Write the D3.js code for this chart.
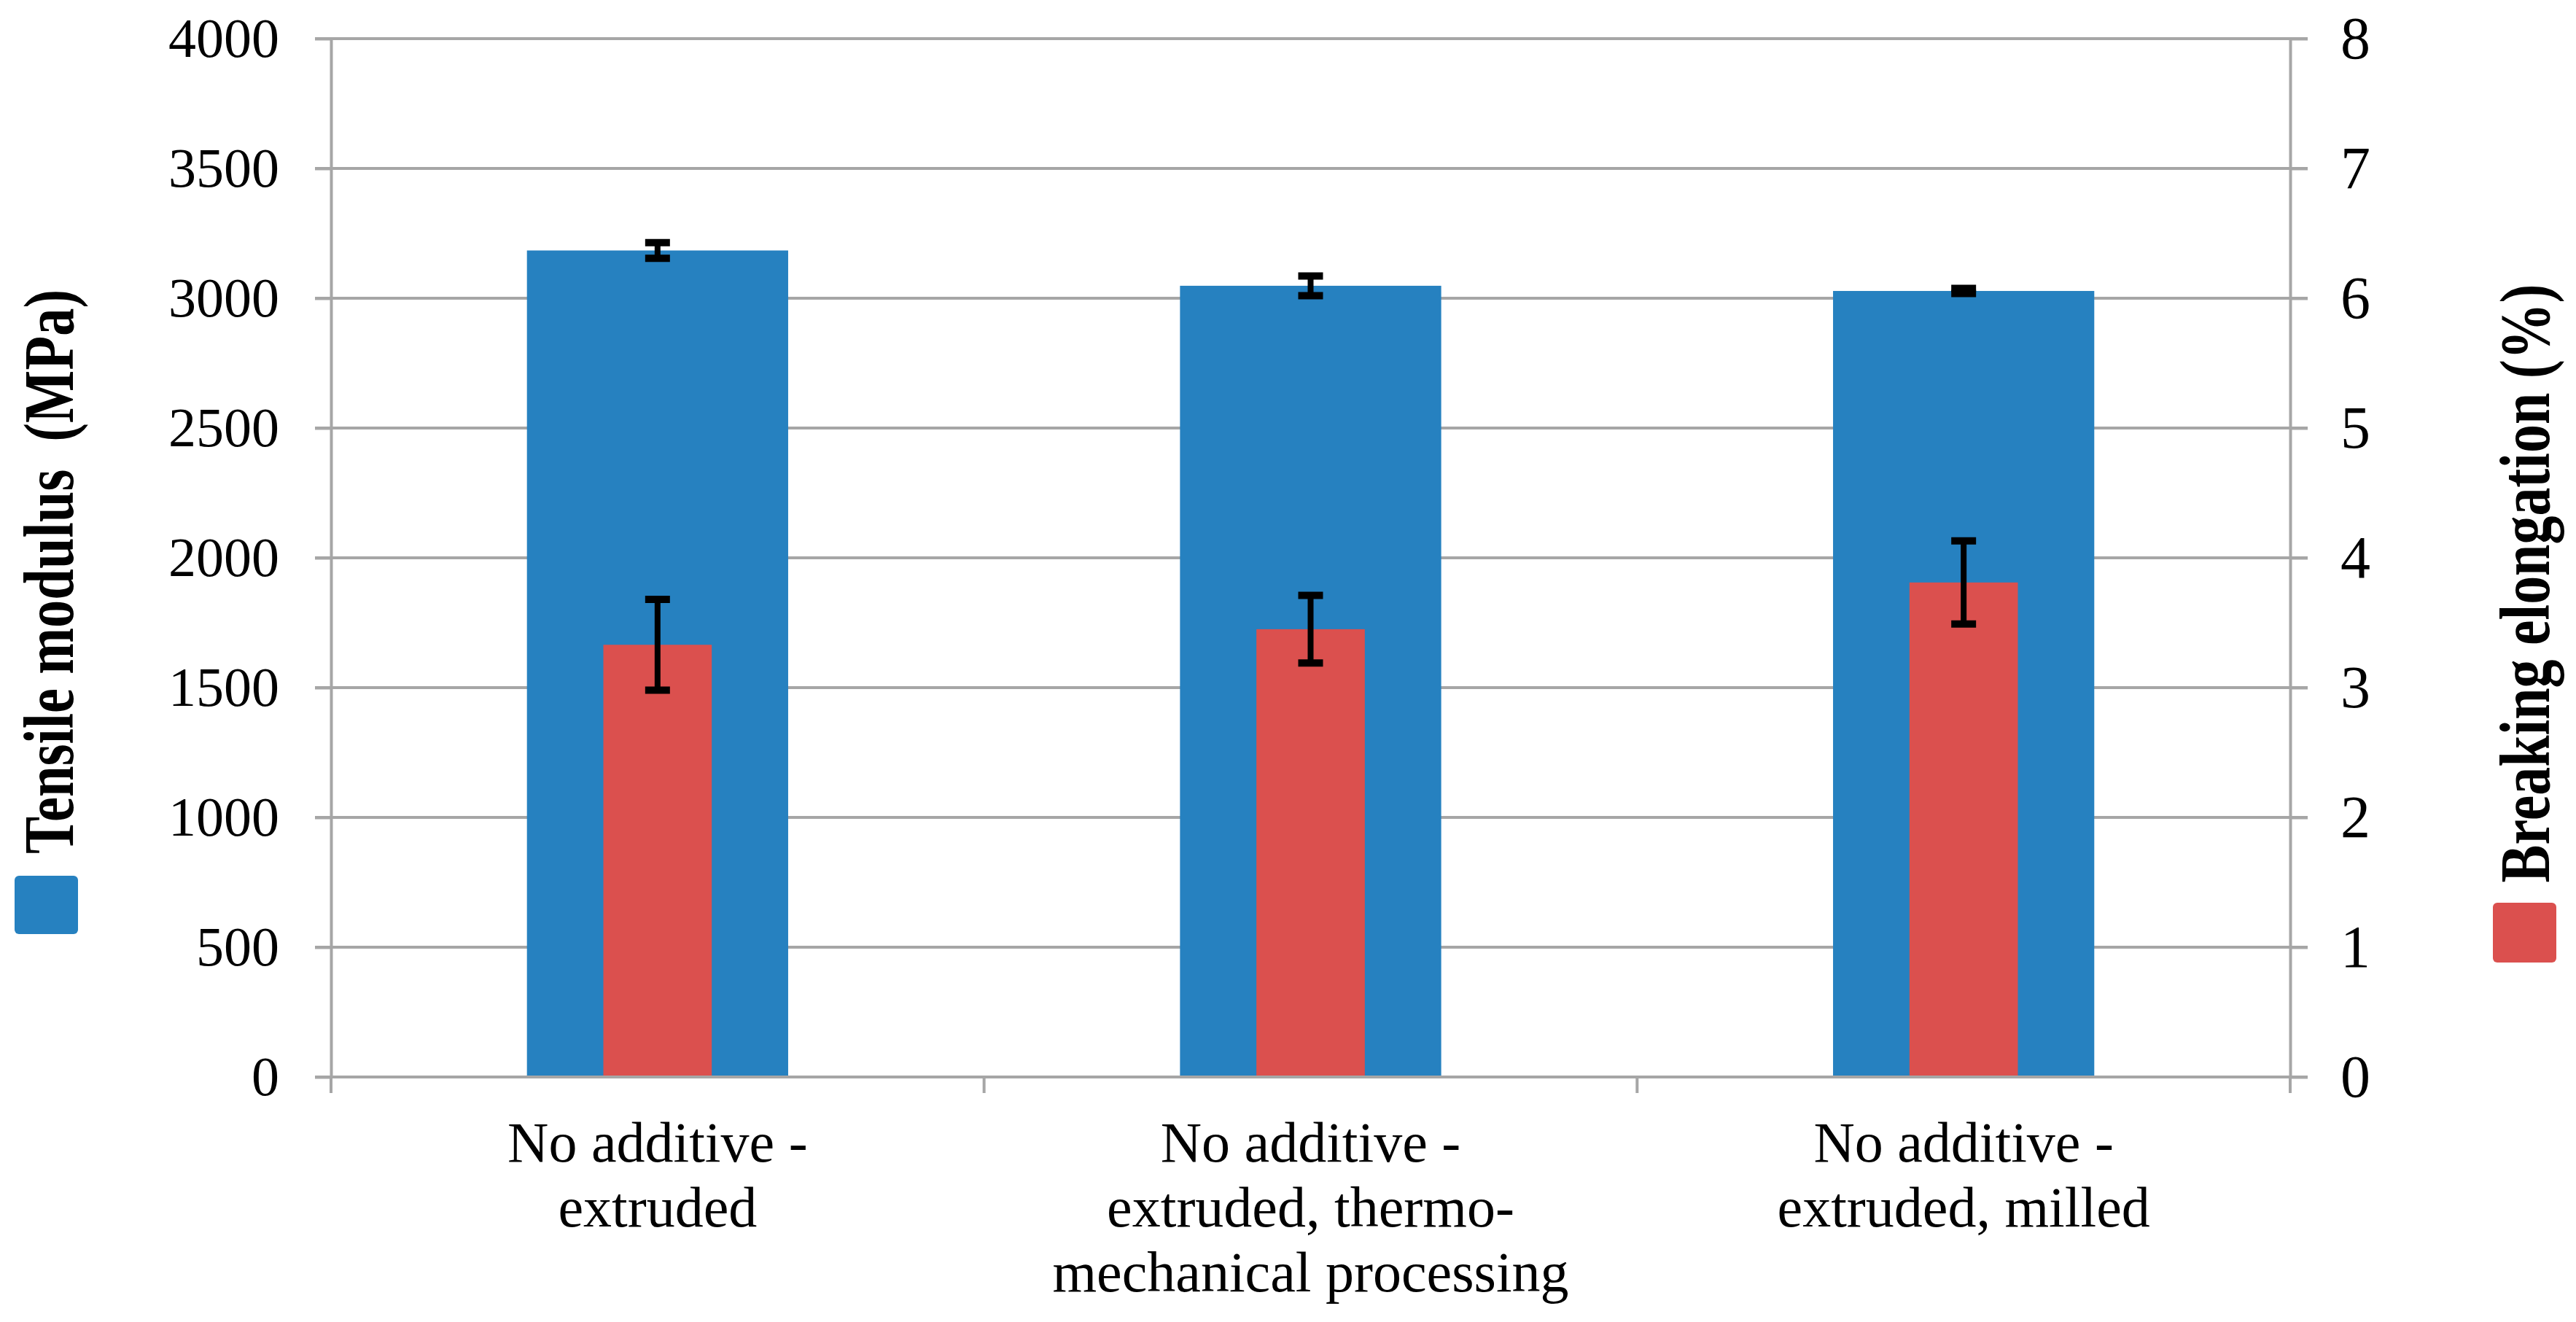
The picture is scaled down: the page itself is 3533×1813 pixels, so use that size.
<!DOCTYPE html>
<html>
<head>
<meta charset="utf-8">
<script src="https://cdn.jsdelivr.net/npm/d3@7"></script>
<style>
  body { margin: 0; background: #fff; }
  text { font-family: "Liberation Serif", "Times New Roman", serif; }
</style>
</head>
<body>
<div id="chart"></div>
<script>
// data
var categories = ["No additive - extruded",
                  "No additive - extruded, thermo-mechanical processing",
                  "No additive - extruded, milled"];
var labelLines = [["No additive -", "extruded"],
                  ["No additive -", "extruded, thermo-", "mechanical processing"],
                  ["No additive -", "extruded, milled"]];
var modulus = [3184, 3048, 3028];
var modulusErr = [30, 38, 10];
var elongation = [3.33, 3.45, 3.81];
var elongationErr = [0.35, 0.26, 0.32];
var leftTicks = [0, 500, 1000, 1500, 2000, 2500, 3000, 3500, 4000];
var rightTicks = [0, 1, 2, 3, 4, 5, 6, 7, 8];

var width = 3533, height = 1813;
// note: "top" is a reserved window property, so use other names
var plotLeft = 454, plotRight = 3141, plotTop = 53, plotBottom = 1477;
var gridColor = "#a6a6a6";
var blue = "#2681c0", red = "#db504e";

var svg = d3.select("#chart").append("svg")
    .attr("width", width)
    .attr("height", height)
    .attr("viewBox", [0, 0, width, height]);

var x = d3.scaleBand().domain(categories).range([plotLeft, plotRight]).padding(0);
var yL = d3.scaleLinear().domain([0, 4000]).range([plotBottom, plotTop]);
var yR = d3.scaleLinear().domain([0, 8]).range([plotBottom, plotTop]);

// gridlines
svg.append("g")
  .selectAll("line")
  .data(leftTicks)
  .join("line")
    .attr("x1", plotLeft - 22)
    .attr("x2", plotRight + 24)
    .attr("y1", d => yL(d))
    .attr("y2", d => yL(d))
    .attr("stroke", gridColor)
    .attr("stroke-width", 4);

// left axis
var gl = svg.append("g")
    .attr("transform", `translate(${plotLeft},0)`)
    .call(d3.axisLeft(yL).tickValues(leftTicks).tickFormat(d3.format("d"))
      .tickSize(22).tickSizeOuter(0).tickPadding(49));
gl.selectAll("text").attr("font-size", 76).attr("fill", "#000")
  .style("font-family", "'Liberation Serif', serif");

// right axis
var gr = svg.append("g")
    .attr("transform", `translate(${plotRight},0)`)
    .call(d3.axisRight(yR).tickValues(rightTicks).tickFormat(d3.format("d"))
      .tickSize(24).tickSizeOuter(0).tickPadding(45));
gr.selectAll("text").attr("font-size", 82).attr("fill", "#000")
  .style("font-family", "'Liberation Serif', serif");

svg.selectAll(".domain, .tick line")
    .attr("stroke", gridColor)
    .attr("stroke-width", 4);

// bars
var bw = x.bandwidth();
svg.append("g")
  .selectAll("rect")
  .data(categories)
  .join("rect")
    .attr("x", d => x(d) + bw / 2 - bw * 0.2)
    .attr("width", bw * 0.4)
    .attr("y", (d, i) => yL(modulus[i]))
    .attr("height", (d, i) => yL(0) - yL(modulus[i]))
    .attr("fill", blue);

svg.append("g")
  .selectAll("rect")
  .data(categories)
  .join("rect")
    .attr("x", d => x(d) + bw / 2 - bw * 0.083)
    .attr("width", bw * 0.166)
    .attr("y", (d, i) => yR(elongation[i]))
    .attr("height", (d, i) => yR(0) - yR(elongation[i]))
    .attr("fill", red);

// x axis line and boundary ticks
svg.append("line")
    .attr("x1", plotLeft).attr("x2", plotRight)
    .attr("y1", plotBottom).attr("y2", plotBottom)
    .attr("stroke", gridColor).attr("stroke-width", 4);

var bounds = categories.map(d => x(d)).concat([x(categories[categories.length - 1]) + bw]);
svg.append("g")
  .selectAll("line")
  .data(bounds)
  .join("line")
    .attr("x1", d => d).attr("x2", d => d)
    .attr("y1", plotBottom).attr("y2", plotBottom + 22)
    .attr("stroke", gridColor).attr("stroke-width", 4);

// error bars
function errorBars(vals, errs, scale) {
  var g = svg.append("g").attr("stroke", "#000");
  categories.forEach(function(c, i) {
    var cx = x(c) + bw / 2;
    var hi = scale(vals[i] + errs[i]), lo = scale(vals[i] - errs[i]);
    g.append("line").attr("x1", cx).attr("x2", cx).attr("y1", hi).attr("y2", lo)
      .attr("stroke-width", 8);
    [hi, lo].forEach(function(yy) {
      g.append("line").attr("x1", cx - 17).attr("x2", cx + 17).attr("y1", yy).attr("y2", yy)
        .attr("stroke-width", 10);
    });
  });
}
errorBars(modulus, modulusErr, yL);
errorBars(elongation, elongationErr, yR);

// category labels
svg.append("g")
  .selectAll("text")
  .data(categories)
  .join("text")
    .attr("text-anchor", "middle")
    .attr("font-size", 78)
    .attr("fill", "#000")
    .each(function(d, i) {
      var t = d3.select(this);
      labelLines[i].forEach(function(line, j) {
        t.append("tspan")
          .attr("x", x(d) + bw / 2)
          .attr("y", 1593 + j * 89)
          .text(line);
      });
    });

// legends / axis titles (vertical)
svg.append("rect")
    .attr("x", 20).attr("y", 1201).attr("width", 87).attr("height", 80)
    .attr("rx", 6).attr("fill", blue);
svg.append("text")
    .attr("transform", "translate(100,784) rotate(-90)")
    .attr("text-anchor", "middle")
    .attr("font-size", 98)
    .attr("font-weight", "bold")
    .attr("textLength", 774)
    .attr("lengthAdjust", "spacingAndGlyphs")
    .style("white-space", "pre")
    .text("Tensile modulus  (MPa)");

svg.append("rect")
    .attr("x", 3419).attr("y", 1238).attr("width", 87).attr("height", 82)
    .attr("rx", 6).attr("fill", red);
svg.append("text")
    .attr("transform", "translate(3496,800) rotate(-90)")
    .attr("text-anchor", "middle")
    .attr("font-size", 98)
    .attr("font-weight", "bold")
    .attr("textLength", 821)
    .attr("lengthAdjust", "spacingAndGlyphs")
    .text("Breaking elongation (%)");
</script>
</body>
</html>
